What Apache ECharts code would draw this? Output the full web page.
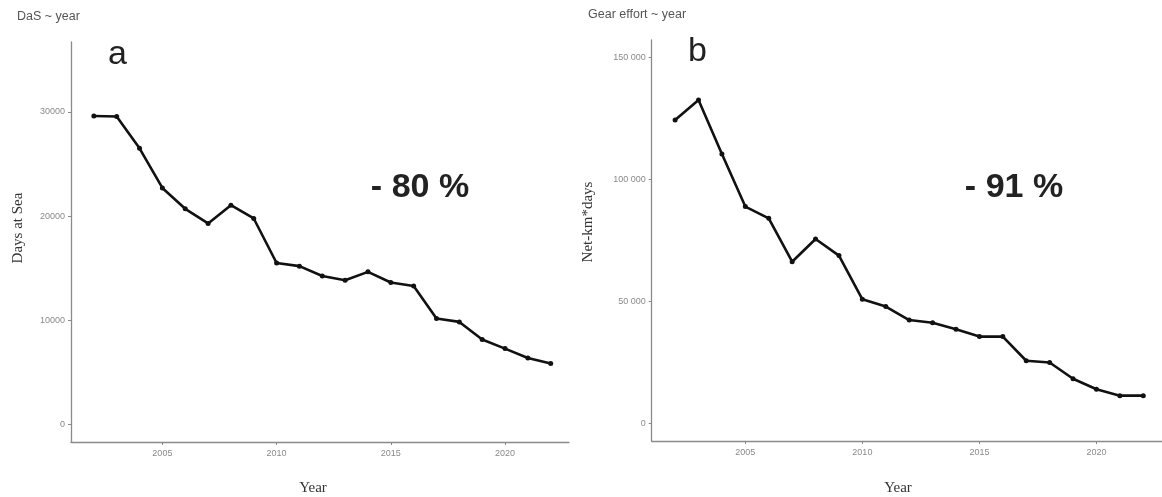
<!DOCTYPE html>
<html>
<head>
<meta charset="utf-8">
<script src="https://cdn.jsdelivr.net/npm/echarts@6/dist/echarts.min.js"></script>
<style>
html,body{margin:0;padding:0;background:#fff;}
#c{width:1162px;height:497px;}
</style>
</head>
<body>
<div id="c"></div>
<script>
const years = [2002,2003,2004,2005,2006,2007,2008,2009,2010,2011,2012,2013,2014,2015,2016,2017,2018,2019,2020,2021,2022];
const daysAtSea = [29600,29550,26500,22700,20700,19300,21050,19770,15500,15200,14250,13850,14650,13630,13300,10170,9850,8160,7290,6390,5850];
const gearEffort = [124300,132500,110400,88800,84000,66200,75500,68700,50800,47800,42300,41200,38500,35500,35500,25600,24900,18200,13900,11300,11300];
const xTicks = [2005,2010,2015,2020];
const leftYTicks = [0,10000,20000,30000];
const rightYTicks = [0,50000,100000,150000];

const chart = echarts.init(document.getElementById('c'));
const axisColor = '#8a8a8a';
const labelColor = '#8a8a8a';

function xAxis(gi){
  return {
    type:'value', gridIndex:gi, min:2001, max:2022.8,
    axisLine:{show:true, onZero:false, lineStyle:{color:axisColor, width:1.3}},
    axisTick:{show:true, length:3, customValues:xTicks, lineStyle:{color:axisColor}},
    axisLabel:{customValues:xTicks, color:labelColor, fontSize:9, fontFamily:'Liberation Sans', margin:7, formatter:v=>String(v)},
    splitLine:{show:false}
  };
}
function yAxis(gi, min, max, ticks, fmt){
  return {
    type:'value', gridIndex:gi, min:min, max:max,
    axisLine:{show:true, onZero:false, lineStyle:{color:axisColor, width:1.3}},
    axisTick:{show:true, length:3, customValues:ticks, lineStyle:{color:axisColor}},
    axisLabel:{customValues:ticks, color:labelColor, fontSize:9, fontFamily:'Liberation Sans', margin:6, formatter:fmt},
    splitLine:{show:false}
  };
}
const spaceFmt = v => String(v).replace(/\B(?=(\d{3})+(?!\d))/g, ' ');

function series(xi, data){
  return {
    type:'line', xAxisIndex:xi, yAxisIndex:xi,
    data: years.map((y,i)=>[y, data[i]]),
    symbol:'circle', symbolSize:5, showSymbol:true,
    lineStyle:{color:'#111', width:2.6},
    itemStyle:{color:'#111'},
    animation:false
  };
}

chart.setOption({
  animation:false,
  grid:[
    {left:71, top:42, width:498, height:400},
    {left:651.7, top:40, right:0, height:401}
  ],
  xAxis:[xAxis(0), xAxis(1)],
  yAxis:[
    yAxis(0, -1670, 36700, leftYTicks, v=>String(v)),
    yAxis(1, -7300, 157100, rightYTicks, spaceFmt)
  ],
  series:[series(0, daysAtSea), series(1, gearEffort)],
  graphic:[
    {type:'text', left:17, top:10, style:{text:'DaS ~ year', font:'12.5px "Liberation Sans"', fill:'#555'}},
    {type:'text', left:588, top:8, style:{text:'Gear effort ~ year', font:'12.5px "Liberation Sans"', fill:'#555'}},
    {type:'text', x:117.5, y:55, style:{text:'a', font:'34px "Liberation Sans"', fill:'#222', align:'center', verticalAlign:'middle'}},
    {type:'text', x:697.5, y:52, style:{text:'b', font:'34px "Liberation Sans"', fill:'#222', align:'center', verticalAlign:'middle'}},
    {type:'text', x:420, y:188, style:{text:'- 80 %', font:'bold 34px "Liberation Sans"', fill:'#222', align:'center', verticalAlign:'middle'}},
    {type:'text', x:1014, y:188, style:{text:'- 91 %', font:'bold 34px "Liberation Sans"', fill:'#222', align:'center', verticalAlign:'middle'}},
    {type:'text', x:18, y:228, rotation:Math.PI/2, style:{text:'Days at Sea', font:'15px "Liberation Serif"', fill:'#333', align:'center', verticalAlign:'middle'}},
    {type:'text', x:588, y:222, rotation:Math.PI/2, style:{text:'Net-km*days', font:'15px "Liberation Serif"', fill:'#333', align:'center', verticalAlign:'middle'}},
    {type:'text', x:313, y:488, style:{text:'Year', font:'15px "Liberation Serif"', fill:'#333', align:'center', verticalAlign:'middle'}},
    {type:'text', x:898, y:488, style:{text:'Year', font:'15px "Liberation Serif"', fill:'#333', align:'center', verticalAlign:'middle'}}
  ]
});
</script>
</body>
</html>
